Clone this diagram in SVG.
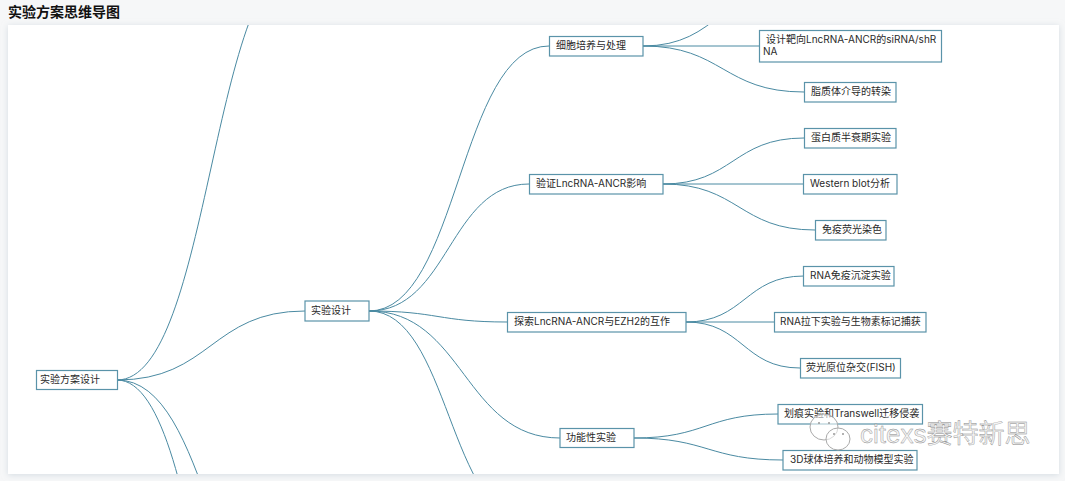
<svg xmlns="http://www.w3.org/2000/svg" width="1065" height="481" viewBox="0 0 1065 481">
<style>
text{font-family:"Inter","Noto Sans CJK SC",sans-serif;font-size:10px;fill:#2a2a2a}
.title{font-family:"Liberation Sans","Noto Sans CJK SC",sans-serif;font-size:14px;font-weight:bold;fill:#111}
.n{fill:#fff;stroke:#5a93a9;stroke-width:1.2}
.c{fill:none;stroke:#4a8aa2;stroke-width:1}
.wm{font-family:"Liberation Sans","Noto Sans CJK SC",sans-serif;font-size:26px;fill:#f4f4f4;stroke:#888;stroke-width:.4}
.wi{fill:#fff;fill-opacity:.55;stroke:#aaa;stroke-width:1}
.we{fill:#999}
</style>
<defs>
<filter id="sh" x="-3%" y="-6%" width="106%" height="112%"><feDropShadow dx="0" dy="1" stdDeviation="3" flood-color="#c6d0d8" flood-opacity=".7"/></filter>
<clipPath id="cp"><rect x="8" y="25" width="1051" height="449"/></clipPath>
</defs>
<rect width="1065" height="481" fill="#f6f7f8"/>
<rect x="8" y="25" width="1051" height="449" fill="#fff" filter="url(#sh)"/>
<text class="title" x="8" y="17">实验方案思维导图</text>
<g id="connectors" clip-path="url(#cp)">
<path class="c" d="M117 380C211 380 211 -44 305 -44"/>
<path class="c" d="M117 380C211 380 211 311 305 311"/>
<path class="c" d="M117 380C211 380 211 642 305 642"/>
<path class="c" d="M117 380C211 380 211 888 305 888"/>
<path class="c" d="M369 311C459 311 459 46 549 46"/>
<path class="c" d="M369 311C449 311 449 184 529 184"/>
<path class="c" d="M369 311C438 311 438 322 507 322"/>
<path class="c" d="M369 311C464 311 464 438 560 438"/>
<path class="c" d="M369 311C449 311 449 522 530 522"/>
<path class="c" d="M643 46C721 46 721 -16 800 -16"/>
<path class="c" d="M643 46H759"/>
<path class="c" d="M643 46C723 46 723 92 804 92"/>
<path class="c" d="M663 184C733 184 733 138 804 138"/>
<path class="c" d="M663 184H803"/>
<path class="c" d="M663 184C739 184 739 230 815 230"/>
<path class="c" d="M686 322C745 322 745 276 804 276"/>
<path class="c" d="M686 322H774"/>
<path class="c" d="M686 322C743 322 743 368 800 368"/>
<path class="c" d="M634 438C706 438 706 414 778 414"/>
<path class="c" d="M634 438C708 438 708 460 783 460"/>
</g>
<g id="n-root"><rect class="n" x="36.5" y="370.5" width="81" height="19"/><text x="40" y="383">实验方案设计</text></g>
<g id="n-design"><rect class="n" x="305" y="301" width="64" height="20"/><text x="311" y="314">实验设计</text></g>
<g id="n-cell"><rect class="n" x="549.5" y="36.5" width="93.500" height="19.500"/><text x="556" y="49">细胞培养与处理</text></g>
<g id="n-verify"><rect class="n" x="529.5" y="174.500" width="133.500" height="19.500"/><text x="536" y="187">验证LncRNA-ANCR影响</text></g>
<g id="n-ezh2"><rect class="n" x="507.500" y="312.500" width="178.500" height="19.500"/><text x="514" y="325">探索LncRNA-ANCR与EZH2的互作</text></g>
<g id="n-func"><rect class="n" x="560" y="428.500" width="74" height="19"/><text x="566" y="441">功能性实验</text></g>
<g id="n-sirna"><rect class="n" x="759.500" y="30.500" width="182" height="31.500"/><text x="766" y="43">设计靶向LncRNA-ANCR的siRNA/shR</text><text x="763" y="55">NA</text></g>
<g id="n-lipo"><rect class="n" x="804.500" y="82.500" width="91.500" height="19.500"/><text x="811" y="95">脂质体介导的转染</text></g>
<g id="n-half"><rect class="n" x="804.500" y="128.500" width="91.500" height="19.500"/><text x="811" y="141">蛋白质半衰期实验</text></g>
<g id="n-wb"><rect class="n" x="803.500" y="174.500" width="93.500" height="19.500"/><text x="810" y="187">Western blot分析</text></g>
<g id="n-if"><rect class="n" x="815.500" y="220.500" width="70.500" height="19.500"/><text x="822" y="233">免疫荧光染色</text></g>
<g id="n-rip"><rect class="n" x="803.500" y="266.500" width="90.500" height="19.500"/><text x="810" y="279">RNA免疫沉淀实验</text></g>
<g id="n-pull"><rect class="n" x="774.500" y="312.500" width="151.500" height="19.500"/><text x="780" y="325">RNA拉下实验与生物素标记捕获</text></g>
<g id="n-fish"><rect class="n" x="800.500" y="358.500" width="100" height="19.500"/><text x="806" y="371">荧光原位杂交(FISH)</text></g>
<g id="n-scratch"><rect class="n" x="778" y="404.500" width="144.500" height="19.500"/><text x="784" y="417">划痕实验和Transwell迁移侵袭</text></g>
<g id="n-3d"><rect class="n" x="783" y="450.500" width="134" height="19.500"/><text x="790" y="463">3D球体培养和动物模型实验</text></g>
<g id="watermark">
<ellipse class="wi" cx="824" cy="427" rx="14" ry="13"/>
<ellipse class="wi" cx="838" cy="439" rx="12" ry="11"/>
<circle class="we" cx="819" cy="423" r="1"/><circle class="we" cx="829" cy="423" r="1"/>
<circle class="we" cx="834" cy="434" r="1"/><circle class="we" cx="843" cy="434" r="1"/>
<text class="wm" x="860" y="443">citexs赛特新思</text>
</g>
</svg>
